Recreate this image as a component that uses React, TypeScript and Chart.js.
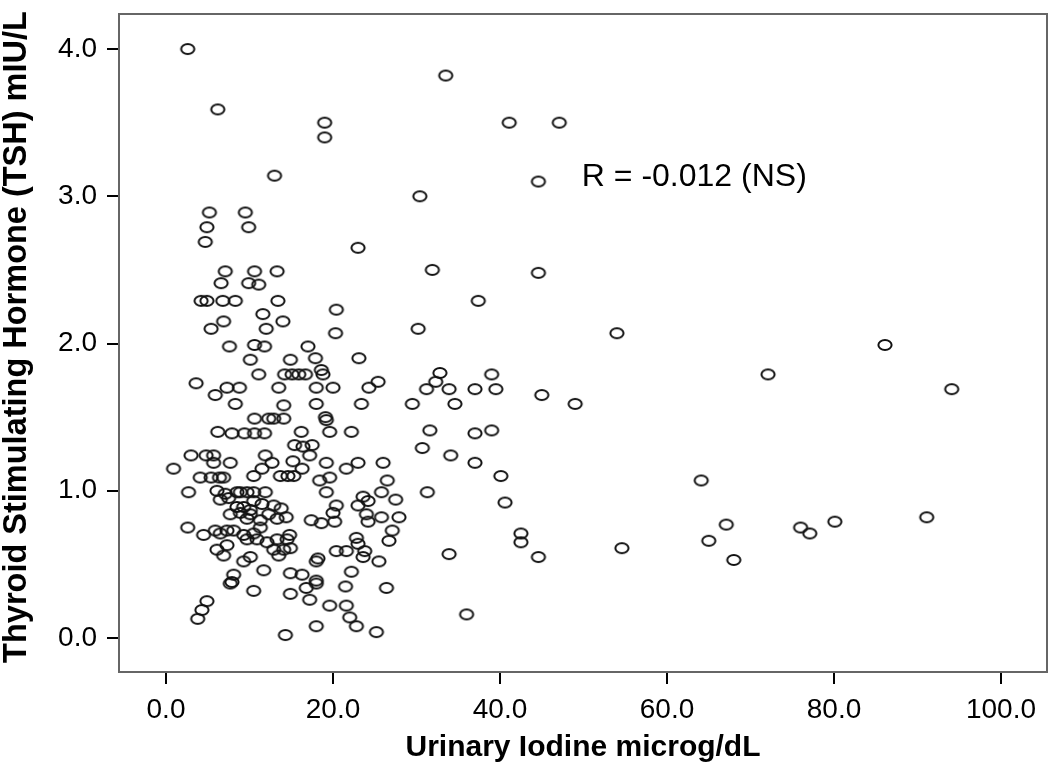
import { useEffect, useRef } from "react";
import { Chart, registerables } from "chart.js";

Chart.register(...registerables);

const X_TICKS = [0, 20, 40, 60, 80, 100];
const Y_TICKS = [0, 1, 2, 3, 4];
const X_TITLE = "Urinary Iodine microg/dL";
const Y_TITLE = "Thyroid Stimulating Hormone (TSH) mIU/L";
const NOTE = "R = -0.012 (NS)";
const NOTE_POS = [49.8, 3.13];

// [urinary iodine (microg/dL), TSH (mIU/L)]
const highTshLowIodine = [
  [2.6, 4.0], [6.2, 3.59], [19.0, 3.5], [19.0, 3.4], [13.0, 3.14], [5.2, 2.89], [4.9, 2.79], [4.7, 2.69],
  [9.5, 2.89], [9.9, 2.79], [23.0, 2.65], [7.1, 2.49], [10.6, 2.49], [13.3, 2.49], [6.6, 2.41], [9.9, 2.41],
  [11.1, 2.4], [4.2, 2.29], [4.9, 2.29], [6.8, 2.29], [8.3, 2.29], [13.4, 2.29], [11.6, 2.2], [6.9, 2.15],
  [14.0, 2.15], [5.4, 2.1], [12.0, 2.1], [20.4, 2.23], [20.3, 2.07],
];

const highTshHighIodine = [
  [33.5, 3.82], [41.1, 3.5], [47.1, 3.5], [44.6, 3.1], [30.4, 3.0], [31.9, 2.5], [44.6, 2.48], [37.4, 2.29],
  [30.2, 2.1], [54.0, 2.07], [86.1, 1.99],
];

const midTshLowIodine = [
  [7.6, 1.98], [10.6, 1.99], [11.8, 1.98], [17.0, 1.98], [10.1, 1.89], [14.9, 1.89], [17.9, 1.9], [23.1, 1.9],
  [11.1, 1.79], [14.2, 1.79], [15.1, 1.79], [15.9, 1.79], [16.7, 1.79], [18.6, 1.82], [18.8, 1.79], [3.6, 1.73],
  [5.9, 1.65], [7.3, 1.7], [8.8, 1.7], [8.3, 1.59], [13.5, 1.7], [14.1, 1.58], [18.0, 1.7], [20.0, 1.7],
  [24.3, 1.7], [25.4, 1.74], [18.0, 1.59], [23.4, 1.59], [29.5, 1.59], [10.6, 1.49], [12.3, 1.49], [12.9, 1.49],
  [14.1, 1.49], [19.1, 1.5], [19.2, 1.48], [6.2, 1.4], [7.9, 1.39], [9.4, 1.39], [10.6, 1.39], [11.8, 1.39],
  [16.2, 1.4], [19.6, 1.4], [22.2, 1.4], [15.4, 1.31], [16.4, 1.3], [17.5, 1.31],
];

const lowTshHighIodine = [
  [72.1, 1.79], [94.1, 1.69], [32.8, 1.8], [32.3, 1.74], [31.2, 1.69], [33.9, 1.69], [34.6, 1.59], [37.0, 1.69],
  [39.0, 1.79], [39.5, 1.69], [45.0, 1.65], [49.0, 1.59], [31.6, 1.41], [37.0, 1.39], [39.0, 1.41], [30.7, 1.29],
  [34.1, 1.24], [37.0, 1.19], [40.1, 1.1], [31.3, 0.99], [40.6, 0.92], [64.1, 1.07], [42.5, 0.71], [42.5, 0.65],
  [33.9, 0.57], [44.6, 0.55], [54.6, 0.61], [67.1, 0.77], [65.0, 0.66], [68.0, 0.53], [76.0, 0.75], [77.1, 0.71],
  [80.1, 0.79], [91.1, 0.82], [36.0, 0.16],
];

const lowTshVeryLowIodine = [
  [3.0, 1.24], [4.8, 1.24], [5.7, 1.24], [0.9, 1.15], [5.7, 1.19], [7.7, 1.19], [11.9, 1.24], [12.7, 1.19],
  [4.1, 1.09], [5.4, 1.09], [6.4, 1.09], [6.9, 1.09], [2.7, 0.99], [6.1, 1.0], [7.1, 0.98], [6.5, 0.94],
  [7.5, 0.95], [8.5, 0.99], [8.9, 0.99], [9.7, 0.99], [10.5, 0.99], [11.9, 0.99], [10.5, 1.1], [11.5, 1.15],
  [13.7, 1.1], [14.6, 1.1], [7.7, 0.84], [8.9, 0.85], [9.7, 0.81], [10.1, 0.84], [11.3, 0.8], [10.5, 0.93],
  [11.5, 0.91], [12.9, 0.9], [13.8, 0.88], [14.4, 0.82], [13.3, 0.81], [12.3, 0.84], [9.3, 0.89], [10.1, 0.87],
  [8.5, 0.89], [2.6, 0.75], [4.5, 0.7], [5.9, 0.73], [6.5, 0.71], [7.3, 0.73], [8.1, 0.73], [9.3, 0.7],
  [10.5, 0.71], [11.3, 0.75], [9.7, 0.67], [10.9, 0.67], [12.1, 0.65], [13.3, 0.67], [14.5, 0.67], [14.8, 0.7],
  [6.1, 0.6], [6.9, 0.56], [7.3, 0.63], [12.9, 0.6], [13.5, 0.56], [14.1, 0.6], [14.9, 0.61], [10.1, 0.55],
  [9.3, 0.52], [11.7, 0.46], [8.1, 0.43], [7.9, 0.38], [7.7, 0.37], [10.5, 0.32], [14.9, 0.44], [14.9, 0.3],
  [4.9, 0.25], [4.3, 0.19], [3.8, 0.13], [14.3, 0.02],
];

const lowTshLowIodine = [
  [15.2, 1.2], [16.3, 1.15], [15.3, 1.1], [17.2, 1.24], [19.2, 1.19], [18.4, 1.07], [19.6, 1.09], [19.2, 0.99],
  [21.6, 1.15], [23.0, 1.19], [26.0, 1.19], [26.5, 1.07], [25.8, 0.99], [27.5, 0.94], [20.4, 0.9], [20.0, 0.85],
  [20.2, 0.79], [23.0, 0.9], [23.6, 0.96], [24.2, 0.93], [24.0, 0.84], [24.2, 0.79], [25.8, 0.82], [27.9, 0.82],
  [27.1, 0.73], [26.7, 0.66], [17.4, 0.8], [18.6, 0.78], [20.4, 0.59], [21.6, 0.59], [22.8, 0.68], [23.0, 0.64],
  [23.8, 0.59], [23.6, 0.55], [25.5, 0.52], [18.2, 0.54], [18.0, 0.52], [16.3, 0.43], [18.0, 0.39], [18.0, 0.37],
  [16.8, 0.34], [17.2, 0.26], [22.2, 0.45], [21.5, 0.35], [26.4, 0.34], [19.6, 0.22], [21.6, 0.22], [22.0, 0.14],
  [22.8, 0.08], [18.0, 0.08], [25.2, 0.04],
];

const ALL_POINTS = [
  ...highTshLowIodine,
  ...highTshHighIodine,
  ...midTshLowIodine,
  ...lowTshHighIodine,
  ...lowTshVeryLowIodine,
  ...lowTshLowIodine,
];

const FONT = "'Liberation Sans', Arial, Helvetica, sans-serif";

function makeMarker(): HTMLCanvasElement {
  const c = document.createElement("canvas");
  c.width = 18;
  c.height = 14;
  const ctx = c.getContext("2d")!;
  ctx.beginPath();
  ctx.ellipse(9, 7, 6.6, 5.0, 0, 0, Math.PI * 2);
  ctx.lineWidth = 2;
  ctx.strokeStyle = "#111";
  ctx.stroke();
  return c;
}

const decorPlugin = {
  id: "decor",
  afterDraw(chart: any) {
    const { ctx, chartArea: a, scales } = chart;
    const frameRight = chart.width - 3;
    ctx.save();
    ctx.strokeStyle = "#666";
    ctx.lineWidth = 2;
    ctx.strokeRect(a.left, a.top, frameRight - a.left, a.bottom - a.top);

    ctx.fillStyle = "#000";
    ctx.font = `32px ${FONT}`;
    ctx.textAlign = "left";
    ctx.textBaseline = "middle";
    ctx.fillText(NOTE, scales.x.getPixelForValue(NOTE_POS[0]), scales.y.getPixelForValue(NOTE_POS[1]));

    ctx.font = `bold 30px ${FONT}`;
    ctx.textAlign = "center";
    ctx.fillText(X_TITLE, (a.left + frameRight) / 2, 748);

    ctx.translate(17, 337);
    ctx.rotate(-Math.PI / 2);
    ctx.font = `bold 32.5px ${FONT}`;
    ctx.fillText(Y_TITLE, 0, 0);
    ctx.restore();
  },
};

export default function App() {
  const ref = useRef<HTMLCanvasElement | null>(null);

  useEffect(() => {
    if (!ref.current) return;
    const marker = makeMarker();
    const chart = new Chart(ref.current, {
      type: "scatter",
      data: {
        datasets: [
          {
            data: ALL_POINTS.map(([x, y]) => ({ x, y })),
            pointStyle: marker as any,
            pointRadius: 7,
            borderColor: "#111",
            backgroundColor: "rgba(0,0,0,0)",
          },
        ],
      },
      options: {
        animation: false,
        responsive: false,
        layout: { padding: { top: 14, right: 3, left: 0, bottom: 0 } },
        plugins: { legend: { display: false }, tooltip: { enabled: false } },
        scales: {
          x: {
            type: "linear",
            min: -5.63,
            max: 104.91,
            afterBuildTicks: (s: any) => {
              s.ticks = X_TICKS.map((v) => ({ value: v }));
            },
            afterFit: (s: any) => {
              s.height = 97;
              s.paddingLeft = 0;
              s.paddingRight = 0;
            },
            grid: { drawOnChartArea: false, drawTicks: true, tickLength: 12, color: "#000", lineWidth: 2 },
            border: { display: false },
            ticks: {
              color: "#000",
              font: { size: 28, family: FONT },
              padding: 9,
              maxRotation: 0,
              autoSkip: false,
              callback: (v: any) => Number(v).toFixed(1),
            },
          },
          y: {
            type: "linear",
            min: -0.231,
            max: 4.238,
            afterBuildTicks: (s: any) => {
              s.ticks = Y_TICKS.map((v) => ({ value: v }));
            },
            afterFit: (s: any) => {
              s.width = 119;
              s.paddingTop = 0;
              s.paddingBottom = 0;
            },
            grid: { drawOnChartArea: false, drawTicks: true, tickLength: 12, color: "#000", lineWidth: 2 },
            border: { display: false },
            ticks: {
              color: "#000",
              font: { size: 28, family: FONT },
              padding: 10,
              autoSkip: false,
              callback: (v: any) => Number(v).toFixed(1),
            },
          },
        },
      },
      plugins: [decorPlugin],
    });
    return () => chart.destroy();
  }, []);

  return (
    <div style={{ position: "absolute", left: 0, top: 0, width: 1050, height: 769, background: "#fff" }}>
      <canvas ref={ref} width={1050} height={769} style={{ display: "block", width: 1050, height: 769 }} />
    </div>
  );
}
